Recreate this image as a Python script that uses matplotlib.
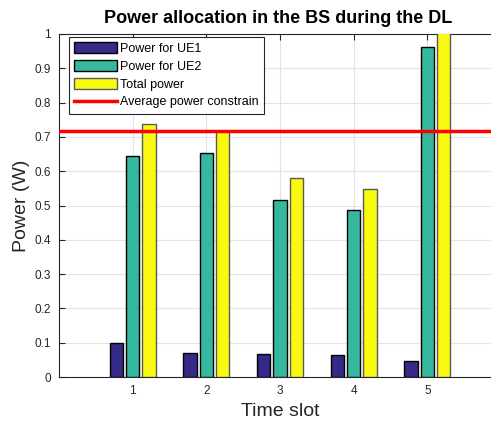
import numpy as np
import matplotlib.pyplot as plt

# values
slots = [1, 2, 3, 4, 5]
power_ue1 = [0.099, 0.069, 0.066, 0.063, 0.046]
power_ue2 = [0.644, 0.653, 0.516, 0.486, 0.963]
power_total = [0.737, 0.716, 0.581, 0.548, 1.01]
avg_constraint = 0.717

plt.rcParams['font.family'] = ['Liberation Sans', 'DejaVu Sans']
txt = '#262626'

fig = plt.figure(figsize=(4.91, 4.29), dpi=100)
ax = fig.add_axes([59 / 491, 52 / 429, 442 / 491, 343 / 429])

x = np.array(slots)
off = 0.222
w = 0.178
b1 = ax.bar(x - off, power_ue1, w, color='#352A87', edgecolor='black', lw=1.0,
            label='Power for UE1', zorder=3)
b2 = ax.bar(x, power_ue2, w, color='#36B89E', edgecolor='black', lw=1.0,
            label='Power for UE2', zorder=3)
b3 = ax.bar(x + off, power_total, w, color='#F9FA0F', edgecolor='#5a5a5a', lw=1.0,
            label='Total power', zorder=3)
ln = ax.axhline(avg_constraint, color='#ff0000', lw=2.5, zorder=4,
                label='Average power constrain')

ax.set_xlim(0, 6)
ax.set_ylim(0, 1)
ax.set_xticks(slots)
ax.set_yticks(np.arange(0, 1.01, 0.1))
ax.set_yticklabels(['0', '0.1', '0.2', '0.3', '0.4', '0.5', '0.6', '0.7', '0.8', '0.9', '1'])
ax.grid(True, color='#e3e3e3', lw=0.8, zorder=0)
ax.set_axisbelow(True)
ax.tick_params(direction='in', length=4, width=0.8, labelsize=8.5,
               colors=txt, top=True, right=True, pad=6)
for s in ax.spines.values():
    s.set_color(txt)
    s.set_linewidth(0.8)

ax.set_xlabel('Time slot', fontsize=14, color=txt, labelpad=4)
ax.set_ylabel('Power (W)', fontsize=14, color=txt, labelpad=3)
ax.set_title('Power allocation in the BS during the DL', fontsize=13,
             fontweight='bold', color='black', pad=8, x=(278 - 59) / 442)

leg = ax.legend([b1, b2, b3, ln],
                ['Power for UE1', 'Power for UE2', 'Total power', 'Average power constrain'],
                loc='upper left', bbox_to_anchor=(10 / 442, 340 / 343),
                fontsize=9, frameon=True, fancybox=False, framealpha=1,
                edgecolor=txt, handlelength=3.4, handleheight=1.0,
                borderpad=0.4, labelspacing=0.4, handletextpad=0.3,
                borderaxespad=0)
leg.get_frame().set_linewidth(0.8)

fig.savefig('out.png', dpi=100)
